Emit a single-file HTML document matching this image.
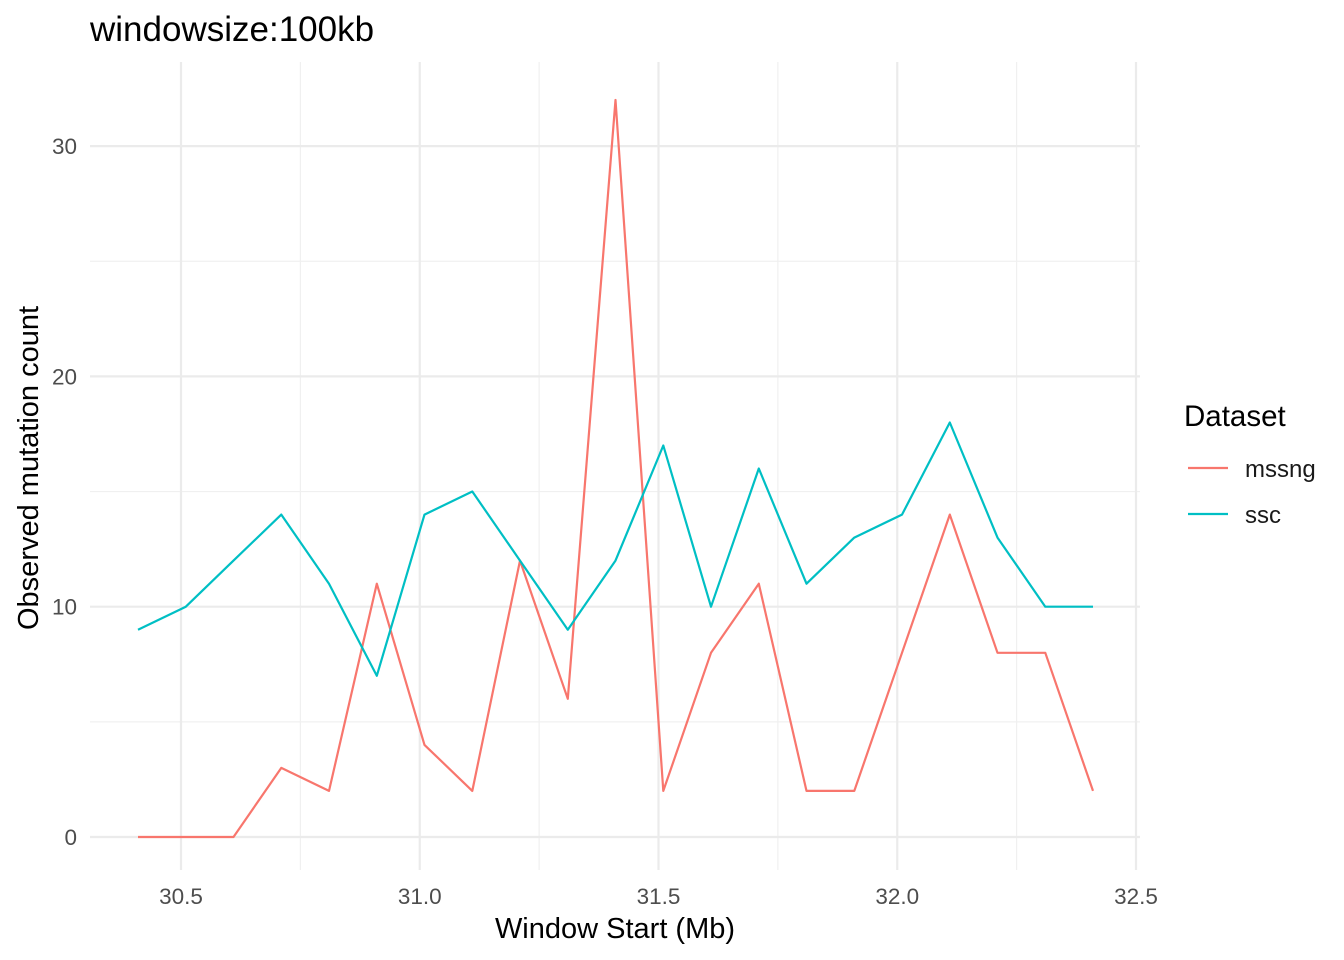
<!DOCTYPE html>
<html><head><meta charset="utf-8"><style>
html,body{margin:0;padding:0;background:#fff;}
svg{display:block;font-family:"Liberation Sans",sans-serif;}
</style></head><body>
<svg id="chart" width="1344" height="960" viewBox="0 0 1344 960">
<text x="90" y="41" font-size="35" fill="#000">windowsize:100kb</text>
<g id="grid"></g>
<g id="ticks"></g>
<g id="lines"></g>
<text x="615" y="938" font-size="29" text-anchor="middle">Window Start (Mb)</text>
<text transform="translate(38,468) rotate(-90)" font-size="29" text-anchor="middle">Observed mutation count</text>
<g>
<text x="1184" y="426" font-size="29.5">Dataset</text>
<g><line x1="1188" x2="1228" y1="468" y2="468" stroke="#F8766D" stroke-width="2.2"/><text x="1245" y="477" font-size="24" fill="#1a1a1a">mssng</text></g>
<g><line x1="1188" x2="1228" y1="514" y2="514" stroke="#00BFC4" stroke-width="2.2"/><text x="1245" y="523" font-size="24" fill="#1a1a1a">ssc</text></g>
</g>
</svg>
<script>
const xStarts = [30.41,30.51,30.61,30.71,30.81,30.91,31.01,31.11,31.21,31.31,31.41,31.51,31.61,31.71,31.81,31.91,32.01,32.11,32.21,32.31,32.41];
const mssngValues = [0,0,0,3,2,11,4,2,12,6,32,2,8,11,2,2,8,14,8,8,2];
const sscValues = [9,10,12,14,11,7,14,15,12,9,12,17,10,16,11,13,14,18,13,10,10];
const xTicks = [30.5,31.0,31.5,32.0,32.5];
const xTickLabels = ["30.5","31.0","31.5","32.0","32.5"];
const xMinor = [30.75,31.25,31.75,32.25];
const yTicks = [0,10,20,30];
const yMinor = [5,15,25];

const NS="http://www.w3.org/2000/svg";
const X = v => 181 + (v-30.5)*477.5;
const Y = v => 837 - v*23.03;
const L=90, R=1140, T=62, B=870;
function mk(tag, attrs, parent){const e=document.createElementNS(NS,tag);for(const k in attrs)e.setAttribute(k,attrs[k]);parent.appendChild(e);return e;}
const grid=document.getElementById('grid'), ticks=document.getElementById('ticks'), lines=document.getElementById('lines');
xMinor.forEach(v=>{const e=mk('line',{x1:X(v),x2:X(v),y1:T,y2:B,stroke:'#f0f0f0','stroke-width':1.2},grid);

});
yMinor.forEach(v=>{const e=mk('line',{x1:L,x2:R,y1:Y(v),y2:Y(v),stroke:'#f0f0f0','stroke-width':1.2},grid);

});
xTicks.forEach((v,i)=>{const e=mk('line',{x1:X(v),x2:X(v),y1:T,y2:B,stroke:'#ebebeb','stroke-width':2.2},grid);


const t=mk('text',{x:X(v),y:904,'font-size':22.5,'text-anchor':'middle',fill:'#4d4d4d'},ticks);t.textContent=xTickLabels[i];

});
yTicks.forEach(v=>{const e=mk('line',{x1:L,x2:R,y1:Y(v),y2:Y(v),stroke:'#ebebeb','stroke-width':2.2},grid);


const t=mk('text',{x:77,y:Y(v)+8,'font-size':22.5,'text-anchor':'end',fill:'#4d4d4d'},ticks);t.textContent=String(v);

});
function series(vals,color,name){const pts=vals.map((v,i)=>X(xStarts[i]).toFixed(1)+','+Y(v).toFixed(1)).join(' ');
const p=mk('polyline',{points:pts,fill:'none',stroke:color,'stroke-width':2.2,'stroke-linejoin':'round'},lines);

}
series(mssngValues,'#F8766D','mssng-line');
series(sscValues,'#00BFC4','ssc-line');
</script>
</body></html>
